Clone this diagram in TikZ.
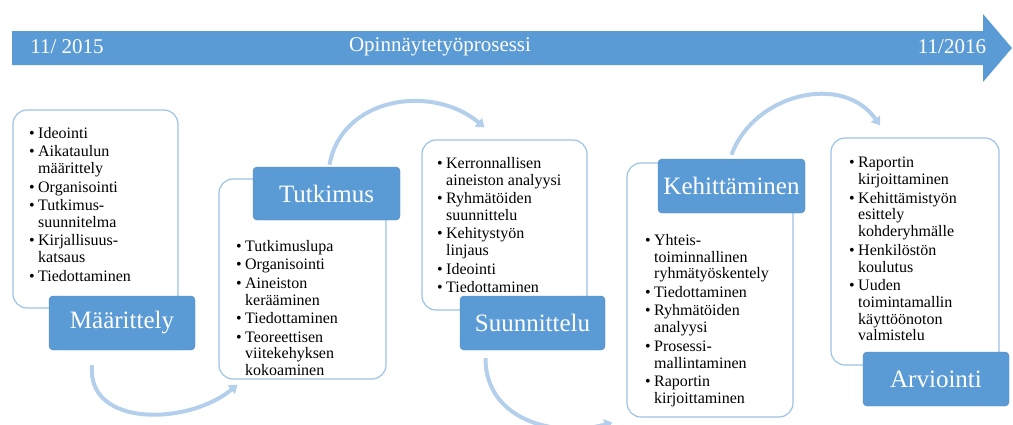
\documentclass[tikz,border=0pt]{standalone}
\usepackage{fontspec}
\setmainfont{Liberation Serif}
\usetikzlibrary{positioning, arrows.meta}

\definecolor{stageblue}{HTML}{5B9BD5}
\definecolor{frameblue}{HTML}{9DC3E6}
\definecolor{arcblue}{HTML}{B4CFEC}

% bullet and continuation indent for the lists
\newcommand{\itm}{\makebox[9pt][l]{\textbullet}}
\newcommand{\cnt}{\hspace*{9pt}}

\begin{document}
\begin{tikzpicture}[
    x=1pt, y=-1pt,
    listbox/.style={draw=frameblue, line width=1.2pt, rounded corners=14pt, fill=white},
    stage/.style={fill=stageblue, draw=stageblue!85!black, line width=0.4pt, rounded corners=4pt,
        text=white, font=\fontsize{25}{28}\selectfont, inner sep=0pt},
    items/.style={anchor=north west, align=left, inner sep=0pt,
        font=\fontsize{16}{16.8}\selectfont},
    flow/.style={arcblue, line width=4pt, -{Triangle[length=8pt,width=11pt]}},
    bandtext/.style={text=white, font=\fontsize{21}{24}\selectfont}
]
    \useasboundingbox (0,0) rectangle (1013,424);

    % --- TIMELINE ARROW ---
    \fill[stageblue] (12,31) -- (983,31) -- (983,14) -- (1012,48) -- (983,82) -- (983,65) -- (12,65) -- cycle;
    \node[bandtext] (start) at (67,47) {11/ 2015};
    \node[bandtext] (title) at (440,47) {Opinnäytetyöprosessi};
    \node[bandtext] (end) at (952,47) {11/2016};

    % --- MÄÄRITTELY ---
    \node[listbox, minimum width=165pt, minimum height=198pt] (def-box) at (95.5,209) {};
    \node[items] (def-list) at (29,127) {%
        \itm Ideointi\\[1.7pt]
        \itm Aikataulun\\ \cnt määrittely\\[1.7pt]
        \itm Organisointi\\[1.7pt]
        \itm Tutkimus-\\ \cnt suunnitelma\\[1.7pt]
        \itm Kirjallisuus-\\ \cnt katsaus\\[1.7pt]
        \itm Tiedottaminen};
    \node[stage, minimum width=146pt, minimum height=54pt] (def-stage) at (122,323) {Määrittely};

    % --- TUTKIMUS ---
    \node[listbox, minimum width=167pt, minimum height=200pt] (tut-box) at (302.5,279) {};
    \node[items] (tut-list) at (236,240) {%
        \itm Tutkimuslupa\\[1.7pt]
        \itm Organisointi\\[1.7pt]
        \itm Aineiston\\ \cnt kerääminen\\[1.7pt]
        \itm Tiedottaminen\\[1.7pt]
        \itm Teoreettisen\\ \cnt viitekehyksen\\ \cnt kokoaminen};
    \node[stage, minimum width=147pt, minimum height=53pt] (tut-stage) at (326.5,193.5) {Tutkimus};

    % --- SUUNNITTELU ---
    \node[listbox, minimum width=165pt, minimum height=170pt] (plan-box) at (504.5,225) {};
    \node[items] (plan-list) at (437,157) {%
        \itm Kerronnallisen\\ \cnt aineiston analyysi\\[1.7pt]
        \itm Ryhmätöiden\\ \cnt suunnittelu\\[1.7pt]
        \itm Kehitystyön\\ \cnt linjaus\\[1.7pt]
        \itm Ideointi\\[1.7pt]
        \itm Tiedottaminen};
    \node[stage, minimum width=145pt, minimum height=54pt] (plan-stage) at (532.5,323) {Suunnittelu};

    % --- KEHITTÄMINEN ---
    \node[listbox, minimum width=166pt, minimum height=254pt] (dev-box) at (710,290) {};
    \node[items] (dev-list) at (645,234) {%
        \itm Yhteis-\\ \cnt toiminnallinen\\ \cnt ryhmätyöskentely\\[1.7pt]
        \itm Tiedottaminen\\[1.7pt]
        \itm Ryhmätöiden\\ \cnt analyysi\\[1.7pt]
        \itm Prosessi-\\ \cnt mallintaminen\\[1.7pt]
        \itm Raportin\\ \cnt kirjoittaminen};
    \node[stage, minimum width=147pt, minimum height=54pt] (dev-stage) at (731.5,186) {Kehittäminen};

    % --- ARVIOINTI ---
    \node[listbox, minimum width=168pt, minimum height=227pt] (eval-box) at (915,251.5) {};
    \node[items] (eval-list) at (849,157) {%
        \itm Raportin\\ \cnt kirjoittaminen\\[1.7pt]
        \itm Kehittämistyön\\ \cnt esittely\\ \cnt kohderyhmälle\\[1.7pt]
        \itm Henkilöstön\\ \cnt koulutus\\[1.7pt]
        \itm Uuden\\ \cnt toimintamallin\\ \cnt käyttöönoton\\ \cnt valmistelu};
    \node[stage, minimum width=146pt, minimum height=54pt] (eval-stage) at (936,379) {Arviointi};

    % --- curved arrows between the stages ---
    \draw[flow] ([xshift=-30pt,yshift=-15pt]def-stage.south) to[out=-95, in=-140, looseness=1.1]
        ([xshift=19pt,yshift=-5pt]tut-box.south west);
    \draw[flow] ([xshift=3pt,yshift=2pt]tut-stage.north) to[out=80, in=140, looseness=1.1]
        ([xshift=-20pt,yshift=12pt]plan-box.north);
    \draw[flow] ([xshift=-47pt,yshift=-8pt]plan-stage.south) to[out=-90, in=-165, looseness=1.1]
        ([xshift=-14pt,yshift=-5pt]dev-box.south west);
    \draw[flow] ([yshift=4pt]dev-stage.north) to[out=70, in=125, looseness=1.1]
        ([xshift=-35pt,yshift=12pt]eval-box.north);
\end{tikzpicture}
\end{document}
